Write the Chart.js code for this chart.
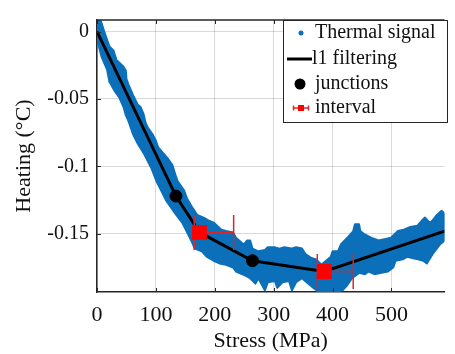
<!DOCTYPE html>
<html lang="en">
<head>
<meta charset="UTF-8">
<title>Heating vs Stress</title>
<script src="https://cdn.jsdelivr.net/npm/chart.js"></script>
<style>
    html, body { margin: 0; padding: 0; background: #fff; }
    .chart-container { position: relative; width: 455px; height: 354px; }
</style>
</head>
<body>
<div class="chart-container"><canvas id="heatChart"></canvas></div>
<script>
// tick values
var stressTicks = [0, 100, 200, 300, 400, 500];
var heatingTicks = [0, -0.05, -0.1, -0.15];

// outline of the thermal signal band:
// upper edge left -> right, then lower edge right -> left
var bandStress = [-3, 3, 8, 13, 21, 28, 33, 45, 49, 50, 54, 61, 69, 74, 79, 82, 86, 94, 100, 104,
    112, 120, 128, 133, 137, 148, 153, 161, 170, 181, 189, 199, 211, 219, 231, 236, 249, 255, 260, 264,
    274, 285, 290, 301, 310, 318, 330, 338, 348, 354, 364, 372, 381, 397, 400, 409, 414, 425, 435, 438,
    445, 447, 453, 466, 478, 488, 499, 511, 521, 532, 544, 552, 557, 565, 570, 577, 585, 590,
    590, 582, 570, 560, 554, 545, 535, 527, 519, 507, 503, 494, 483, 471, 461, 455, 445, 433, 425, 417,
    405, 395, 384, 376, 367, 359, 348, 338, 331, 326, 315, 306, 302, 290, 285, 274, 269, 260, 252, 236,
    231, 219, 208, 198, 186, 178, 166, 161, 153, 145, 133, 125, 117, 109, 101, 92, 79, 69, 61, 54,
    49, 45, 38, 30, 21, 17, 12, 8, 0, -5, -5];
var bandHeating = [0.013, 0.011, 0.006, -0.001, -0.011, -0.014, -0.021, -0.026, -0.029, -0.035,
    -0.040, -0.047, -0.054, -0.056, -0.061, -0.067, -0.071, -0.076, -0.081, -0.086,
    -0.090, -0.094, -0.099, -0.106, -0.111, -0.118, -0.124, -0.130, -0.136, -0.138,
    -0.140, -0.142, -0.147, -0.148, -0.149, -0.153, -0.158, -0.155, -0.155, -0.161,
    -0.163, -0.162, -0.160, -0.160, -0.161, -0.160, -0.161, -0.160, -0.161, -0.165,
    -0.168, -0.169, -0.173, -0.167, -0.163, -0.163, -0.158, -0.153, -0.148, -0.143,
    -0.143, -0.148, -0.150, -0.153, -0.155, -0.154, -0.153, -0.148, -0.147, -0.145,
    -0.144, -0.140, -0.138, -0.142, -0.140, -0.136, -0.133, -0.135,
    -0.155, -0.158, -0.165, -0.172, -0.170, -0.169, -0.168, -0.167, -0.169, -0.170,
    -0.175, -0.178, -0.179, -0.180, -0.178, -0.180, -0.179, -0.183, -0.188, -0.192,
    -0.193, -0.193, -0.195, -0.193, -0.190, -0.187, -0.183, -0.186, -0.192, -0.185,
    -0.186, -0.190, -0.185, -0.186, -0.192, -0.183, -0.187, -0.183, -0.181, -0.178,
    -0.175, -0.173, -0.172, -0.170, -0.167, -0.163, -0.161, -0.156, -0.149, -0.142,
    -0.135, -0.130, -0.125, -0.118, -0.111, -0.101, -0.090, -0.083, -0.076, -0.067,
    -0.062, -0.056, -0.049, -0.044, -0.037, -0.028, -0.023, -0.019, -0.006, 0.006, 0.013];

// l1 filtering
var filterStress = [0, 134, 174, 264, 386, 590];
var filterHeating = [0, -0.122, -0.149, -0.170, -0.178, -0.148];

// junctions
var junctionStress = [134, 264];
var junctionHeating = [-0.122, -0.170];

// intervals
var intervalStress = [174, 386];
var intervalHeating = [-0.149, -0.178];
var intervalLow = [165, 374];
var intervalHigh = [232, 435];

var CAP = 0.013;
var BLUE = '#0b6fba';
var RED = '#ff0000';
var BAR_RED = '#d8262d';
var FONT = '"Liberation Serif", "Times New Roman", serif';

function pts(xs, ys) {
    return xs.map(function (x, i) { return { x: x, y: ys[i] }; });
}

var intervalSegments = [];
intervalStress.forEach(function (s, i) {
    var y = intervalHeating[i], lo = intervalLow[i], hi = intervalHigh[i];
    intervalSegments.push({ x: lo, y: y }, { x: hi, y: y }, { x: hi, y: null });
    intervalSegments.push({ x: lo, y: y - CAP }, { x: lo, y: y + CAP }, { x: lo, y: null });
    intervalSegments.push({ x: hi, y: y - CAP }, { x: hi, y: y + CAP }, { x: hi, y: null });
});

// top frame line, inner tick marks and the boxed legend
var framePlugin = {
    id: 'frame',
    afterDraw: function (chart) {
        var ctx = chart.ctx, a = chart.chartArea;
        var xs = chart.scales.x, ys = chart.scales.y;
        ctx.save();
        ctx.strokeStyle = '#262626';
        ctx.lineWidth = 1.5;
        ctx.beginPath();
        ctx.moveTo(a.left, a.top);
        ctx.lineTo(a.right, a.top);
        ctx.stroke();
        ctx.lineWidth = 1;
        stressTicks.forEach(function (v) {
            var px = Math.round(xs.getPixelForValue(v)) + 0.5;
            ctx.beginPath();
            ctx.moveTo(px, a.top); ctx.lineTo(px, a.top + 4);
            ctx.moveTo(px, a.bottom); ctx.lineTo(px, a.bottom - 4);
            ctx.stroke();
        });
        heatingTicks.forEach(function (v) {
            var py = Math.round(ys.getPixelForValue(v)) + 0.5;
            ctx.beginPath();
            ctx.moveTo(a.left, py); ctx.lineTo(a.left + 4, py);
            ctx.stroke();
        });

        // legend
        var lx = 283, ly = 20, lw = 164, lh = 102;
        ctx.fillStyle = '#fff';
        ctx.fillRect(lx, ly, lw, lh);
        ctx.strokeStyle = '#262626';
        ctx.lineWidth = 1;
        ctx.strokeRect(lx + 0.5, ly + 0.5, lw, lh);
        ctx.font = '20px ' + FONT;
        ctx.fillStyle = '#111';
        ctx.textBaseline = 'middle';
        ctx.textAlign = 'left';
        var rows = [33, 59, 84, 108];
        ctx.fillText('Thermal signal', 315, rows[0]);
        ctx.fillText('l1 filtering', 312, rows[1]);
        ctx.fillText('junctions', 315, rows[2]);
        ctx.fillText('interval', 315, rows[3]);
        // symbols
        ctx.fillStyle = BLUE;
        ctx.beginPath(); ctx.arc(301, rows[0], 2.5, 0, Math.PI * 2); ctx.fill();
        ctx.strokeStyle = '#000'; ctx.lineWidth = 3;
        ctx.beginPath(); ctx.moveTo(287, rows[1]); ctx.lineTo(312, rows[1]); ctx.stroke();
        ctx.fillStyle = '#000';
        ctx.beginPath(); ctx.arc(300, rows[2], 5.5, 0, Math.PI * 2); ctx.fill();
        ctx.strokeStyle = BAR_RED; ctx.lineWidth = 1.5;
        ctx.beginPath();
        ctx.moveTo(293, rows[3]); ctx.lineTo(309, rows[3]);
        ctx.moveTo(293.5, rows[3] - 2.5); ctx.lineTo(293.5, rows[3] + 2.5);
        ctx.moveTo(308.5, rows[3] - 2.5); ctx.lineTo(308.5, rows[3] + 2.5);
        ctx.stroke();
        ctx.fillStyle = RED;
        ctx.fillRect(298, rows[3] - 3, 6, 6);
        ctx.restore();
    }
};

var ctx = document.getElementById('heatChart').getContext('2d');
var heatChart = new Chart(ctx, {
    type: 'scatter',
    data: {
        datasets: [
            {
                label: 'Thermal signal',
                data: pts(bandStress, bandHeating),
                showLine: true,
                fill: 'shape',
                backgroundColor: BLUE,
                borderColor: BLUE,
                borderWidth: 2,
                borderJoinStyle: 'round',
                pointRadius: 0,
                tension: 0,
                order: 5
            },
            {
                label: 'l1 filtering',
                data: pts(filterStress, filterHeating),
                showLine: true,
                borderColor: '#000',
                borderWidth: 3,
                pointRadius: 0,
                order: 4
            },
            {
                label: 'junctions',
                data: pts(junctionStress, junctionHeating),
                pointRadius: 6,
                backgroundColor: '#000',
                borderColor: '#000',
                order: 3
            },
            {
                label: 'interval bars',
                data: intervalSegments,
                showLine: true,
                spanGaps: false,
                borderColor: BAR_RED,
                borderWidth: 1.5,
                pointRadius: 0,
                order: 2
            },
            {
                label: 'interval',
                data: pts(intervalStress, intervalHeating),
                pointStyle: 'rect',
                pointRadius: 10.5,
                borderWidth: 0,
                backgroundColor: RED,
                borderColor: RED,
                order: 1
            }
        ]
    },
    options: {
        animation: false,
        responsive: true,
        maintainAspectRatio: false,
        events: [],
        layout: { padding: { top: 9, right: 0, left: 0, bottom: 0 } },
        plugins: {
            legend: { display: false },
            tooltip: { enabled: false }
        },
        scales: {
            x: {
                type: 'linear',
                min: 0,
                max: 590,
                afterBuildTicks: function (scale) {
                    scale.ticks = stressTicks.map(function (v) { return { value: v }; });
                },
                afterFit: function (scale) { scale.height = 62; },
                grid: { color: 'rgba(0,0,0,0.15)', drawTicks: false },
                border: { color: '#262626', width: 1.5 },
                ticks: {
                    padding: 10,
                    color: '#111',
                    font: { family: FONT, size: 22 }
                },
                title: {
                    display: true,
                    text: 'Stress (MPa)',
                    color: '#111',
                    padding: { top: 0, bottom: 0 },
                    font: { family: FONT, size: 22 }
                }
            },
            y: {
                type: 'linear',
                min: -0.1932,
                max: 0.0086,
                afterBuildTicks: function (scale) {
                    scale.ticks = heatingTicks.map(function (v) { return { value: v }; });
                },
                afterFit: function (scale) { scale.width = 97; },
                grid: { color: 'rgba(0,0,0,0.15)', drawTicks: false },
                border: { color: '#262626', width: 1.5 },
                ticks: {
                    padding: 8,
                    color: '#111',
                    font: { family: FONT, size: 20 },
                    callback: function (v) { return String(v); }
                },
                title: {
                    display: true,
                    text: 'Heating (\u00b0C)',
                    color: '#111',
                    padding: { top: 11, bottom: 0 },
                    font: { family: FONT, size: 22 }
                }
            }
        }
    },
    plugins: [framePlugin]
});
</script>
</body>
</html>
